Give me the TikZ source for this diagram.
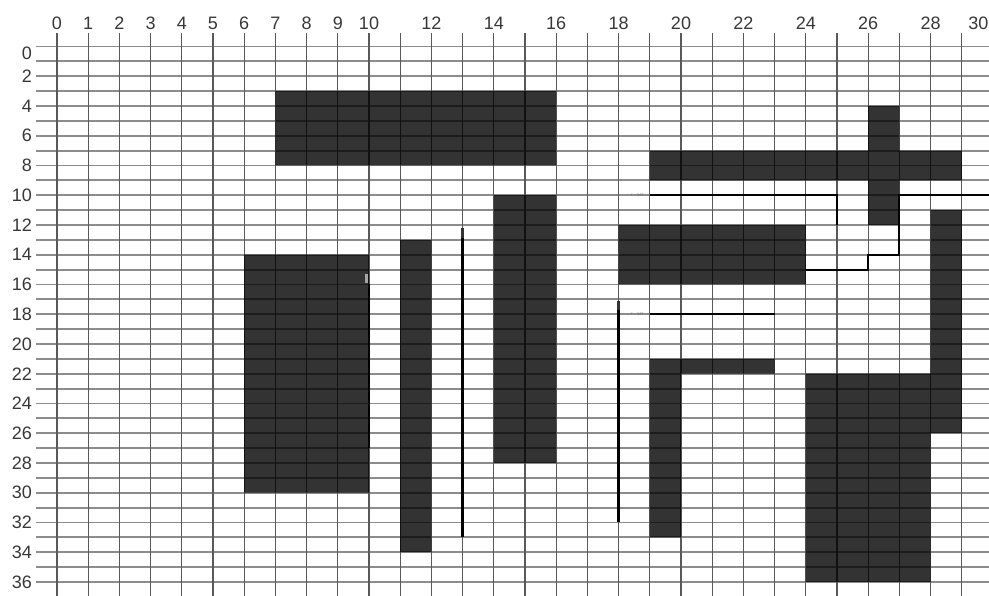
\documentclass[tikz,border=0pt]{standalone}
\usepackage{fontspec}
\setmainfont{Liberation Sans}
\begin{document}
\begin{tikzpicture}[x=23.4pt,y=-11.156pt,
  hline/.style={draw=black!45,line width=1.4pt},
  vline/.style={draw=black!65,line width=0.9pt},
  block/.style={fill=black,fill opacity=0.8},
  wire/.style={draw=black,line width=1.5pt},
  post/.style={draw=black,line width=2pt},
  axlabel/.style={font=\fontsize{13.5}{13.5}\selectfont,text=black!78,inner sep=0pt},
  smudge/.style={font=\fontsize{3.5}{3.5}\selectfont,text=black!55,inner sep=0pt}]
\useasboundingbox (-1.827,-3.126) rectangle (29.872,36.941);
\fill[white] (-1.827,-3.126) rectangle (29.872,36.941);
% grid
\foreach \i in {0,...,37} \draw[hline] (-0.67,\i) -- (30.5,\i);
\foreach \i in {0,...,30} \draw[vline] (\i,-0.91) -- (\i,37.5);
% axis labels
\foreach \i in {0,...,9} \node[axlabel] (xl\i) at (\i,-1.58) {\i};
\foreach \i in {10,12,...,28} \node[axlabel] (xl\i) at (\i,-1.58) {\i};
\node[axlabel,anchor=east] (xl30) at (29.86,-1.58) {30};
\node[axlabel,anchor=east] (yl0) at (-0.8,0.44) {0};
\foreach \i in {2,4,...,36} \node[axlabel,anchor=east] (yl\i) at (-0.8,\i) {\i};
% blocks
\fill[block] (7,3) rectangle (16,8)
  (26,4) rectangle (27,12)
  (19,7) rectangle (29,9)
  (14,10) rectangle (16,28)
  (6,14) rectangle (10,30)
  (11,13) rectangle (12,34)
  (18,12) rectangle (24,16)
  (28,11) rectangle (29,26)
  (24,22) rectangle (28,36)
  (19,21) rectangle (20,33)
  (19,21) rectangle (23,22);
% wires
\draw[wire] (19,10) -- (25,10) -- (25,12);
\draw[wire] (30.5,10) -- (27,10) -- (27,14) -- (26,14) -- (26,15) -- (24,15);
\draw[wire] (19,18) -- (23,18);
\draw[post] (18,17.7) -- (18,32);
\draw[post] (13,12.9) -- (13,33);
\draw[post] (10,16) -- (10,27);
% small marks
\draw[black!80,line width=2.6pt] (18,17.1) -- (18,17.7);
\draw[black!80,line width=2.6pt] (13,12.2) -- (13,12.9);
\draw[black!35,line width=2.4pt] (9.93,15.3) -- (9.93,15.9);
\node[smudge] (s1) at (18.6,10) {r - ser};
\node[smudge] (s2) at (18.6,18) {r - ser};
\end{tikzpicture}
\end{document}
